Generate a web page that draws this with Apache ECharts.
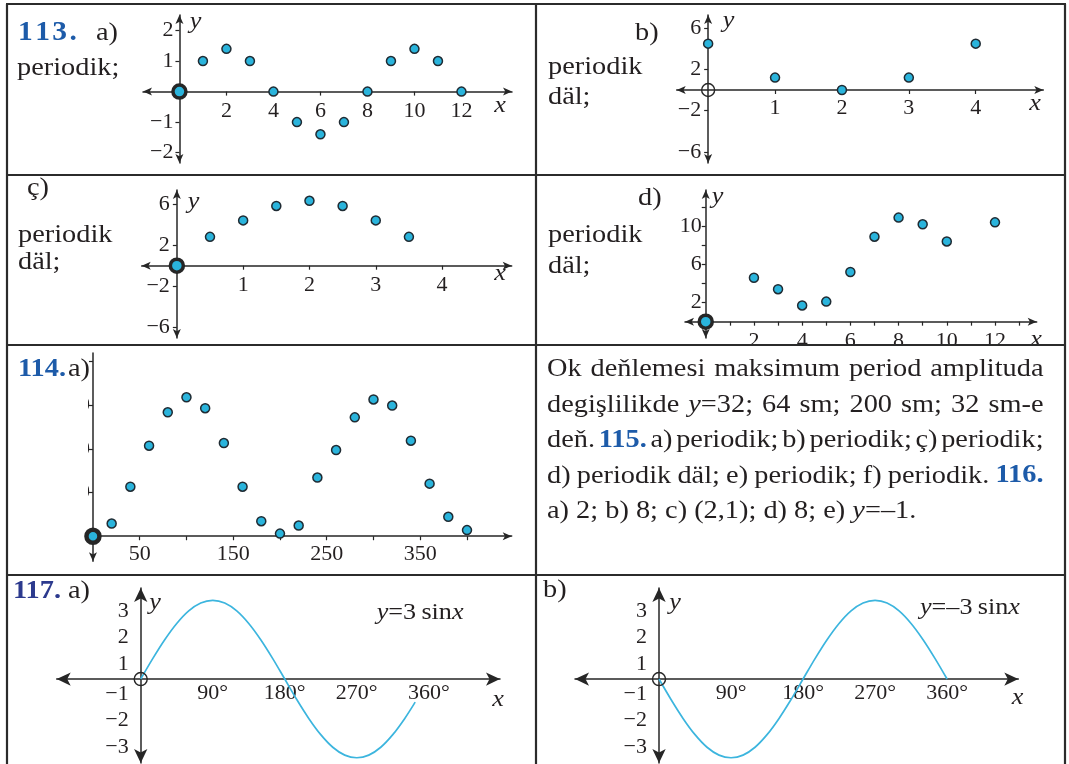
<!DOCTYPE html>
<html>
<head>
<meta charset="utf-8">
<script src="https://cdn.jsdelivr.net/npm/echarts@6/dist/echarts.min.js"></script>
<style>
  html, body { margin: 0; padding: 0; background: #fff; }
  #c { width: 1069px; height: 764px; }
</style>
</head>
<body>
<div id="c"></div>
<script>
// ---------- 113 a) ----------
const a113X = [0, 1, 2, 3, 4, 5, 6, 7, 8, 9, 10, 11, 12];
const a113Y = [0, 1, 1.4, 1, 0, -1, -1.4, -1, 0, 1, 1.4, 1, 0];
const a113XTicks = [2, 4, 6, 8, 10, 12];
const a113YTicks = [-2, -1, 1, 2];

// ---------- 113 b) ----------
const b113X = [0, 1, 2, 3, 4];
const b113Y = [4.5, 1.2, 0, 1.2, 4.5];
const b113XTicks = [1, 2, 3, 4];
const b113YTicks = [-6, -2, 2, 6];

// ---------- 113 ç) ----------
const c113X = [0, 0.5, 1, 1.5, 2, 2.5, 3, 3.5];
const c113Y = [0, 2.8, 4.4, 5.8, 6.3, 5.8, 4.4, 2.8];
const c113XTicks = [1, 2, 3, 4];
const c113YTicks = [-6, -2, 2, 6];

// ---------- 113 d) ----------
const d113X = [0, 2, 3, 4, 5, 6, 7, 8, 9, 10, 12];
const d113Y = [0, 4.6, 3.4, 1.7, 2.1, 5.2, 8.9, 10.9, 10.2, 8.4, 10.4];
const d113XTicks = [1, 2, 3, 4, 5, 6, 7, 8, 9, 10, 11, 12, 13];
const d113XLabels = [2, 4, 6, 8, 10, 12];
const d113YTicks = [2, 4, 6, 8, 10, 12];
const d113YLabels = [2, 6, 10];

// ---------- 114 a) ----------
const a114X = [0, 20, 40, 60, 80, 100, 120, 140, 160, 180, 200, 220, 240, 260, 280, 300, 320, 340, 360, 380, 400];
const a114Y = [0, 5.8, 22.7, 41.5, 56.8, 63.7, 58.7, 42.7, 22.7, 6.9, 1.2, 4.9, 26.9, 39.5, 54.5, 62.7, 59.9, 43.8, 24.1, 8.9, 2.8];
const a114XTicks = [50, 100, 150, 200, 250, 300, 350, 400];
const a114XLabels = [50, 150, 250, 350];
const a114YTicks = [20, 40, 60, 80];
const a114YLabels = [20, 40, 60];

// ---------- 117 a) y = 3 sin x ----------
const sinADeg = [0, 15, 30, 45, 60, 75, 90, 105, 120, 135, 150, 165, 180, 195, 210, 225, 240, 255, 270, 285, 300, 315, 330, 343];
const sinAVal = [0, 0.78, 1.5, 2.12, 2.6, 2.9, 3, 2.9, 2.6, 2.12, 1.5, 0.78, 0, -0.78, -1.5, -2.12, -2.6, -2.9, -3, -2.9, -2.6, -2.12, -1.5, -0.88];

// ---------- 117 b) y = -3 sin x ----------
const sinBDeg = [0, 15, 30, 45, 60, 75, 90, 105, 120, 135, 150, 165, 180, 195, 210, 225, 240, 255, 270, 285, 300, 315, 330, 345, 360];
const sinBVal = [0, -0.78, -1.5, -2.12, -2.6, -2.9, -3, -2.9, -2.6, -2.12, -1.5, -0.78, 0, 0.78, 1.5, 2.12, 2.6, 2.9, 3, 2.9, 2.6, 2.12, 1.5, 0.78, 0];

const degLabels = [90, 180, 270, 360];
const sinYLabels = [-3, -2, -1, 1, 2, 3];
const ORIGIN = [0, 0];

// ---------- styling ----------
const INK = '#262626';
const TEXT = '#231f20';
const DOT = '#2ab4dc';
const CURVE = '#3cb5de';
const BLUE = '#1d5ba9';
const BLUE2 = '#2c3a8e';
const SERIF = 'Liberation Serif';
const SX = 1.09;

const minus = v => (v < 0 ? '\u2212' + (-v) : String(v));
const degFmt = v => v + '°';
const sinNeg = sinYLabels.filter(v => v < 0);
const sinPos = sinYLabels.filter(v => v > 0);

// one entry per coordinate system: box in pixels, ranges, ticks and labels
const panels = [
  { box: { left: 143, top: 15, width: 369, height: 148 },
    x: { min: -1.55, max: 14.15, ticks: a113XTicks, labels: a113XTicks, margin: 9 },
    y: { min: -2.34, max: 2.51, ticks: a113YTicks, labels: a113YTicks, margin: 6 } },
  { box: { left: 676.7, top: 15, width: 366.6, height: 148 },
    x: { min: -0.47, max: 5.01, ticks: b113XTicks, labels: b113XTicks, margin: 7 },
    y: { min: -7.09, max: 7.28, ticks: b113YTicks, labels: b113YTicks, margin: 7 } },
  { box: { left: 141.7, top: 190, width: 370, height: 148 },
    x: { min: -0.53, max: 5.05, ticks: c113XTicks, labels: c113XTicks, margin: 9 },
    y: { min: -7.02, max: 7.35, ticks: c113YTicks, labels: c113YTicks, margin: 7 } },
  { box: { left: 685, top: 190, width: 351.7, height: 148 },
    x: { min: -0.86, max: 13.73, ticks: d113XTicks, labels: d113XLabels, margin: 9 },
    y: { min: -1.71, max: 13.79, ticks: d113YTicks, labels: d113YLabels, margin: 4 } },
  { box: { left: 88, top: 353, width: 423.7, height: 208.3 },
    x: { min: -5.3, max: 447.8, ticks: a114XTicks, labels: a114XLabels, margin: 7, arrows: ['none', 'arrow'] },
    y: { min: -11.5, max: 84, ticks: a114YTicks, labels: a114YLabels, margin: 3, arrows: ['arrow', 'none'] } },
  { box: { left: 56.7, top: 588, width: 443.3, height: 175 },
    x: { min: -105, max: 449, labels: degLabels, fmt: degFmt, margin: 3, arrowSize: [10, 14] },
    y: { min: -3.2, max: 3.47, labels: sinNeg, valign: 'bottom', margin: 12, arrowSize: [10, 14] },
    y2: { min: -3.2, max: 3.47, labels: sinPos, valign: 'top', margin: 12, noLine: true } },
  { box: { left: 575, top: 588, width: 443.3, height: 175 },
    x: { min: -105, max: 449, labels: degLabels, fmt: degFmt, margin: 3, arrowSize: [10, 14] },
    y: { min: -3.2, max: 3.47, labels: sinNeg, valign: 'bottom', margin: 12, arrowSize: [10, 14] },
    y2: { min: -3.2, max: 3.47, labels: sinPos, valign: 'top', margin: 12, noLine: true } }
];

// the axes cross at the origin: shift each axis from the box edge onto the zero line
function axis(grid, o, offset, position) {
  const label = o.labels
    ? { show: true, customValues: o.labels, formatter: o.fmt || minus, margin: o.margin, hideOverlap: false,
        fontFamily: SERIF, fontSize: 22, color: TEXT, lineHeight: 22 }
    : { show: false };
  if (o.valign) label.verticalAlign = o.valign;
  return {
    type: 'value', gridIndex: grid, min: o.min, max: o.max, position, offset,
    splitLine: { show: false },
    axisLine: {
      show: !o.noLine, onZero: false,
      symbol: o.arrows || ['arrow', 'arrow'],
      symbolSize: o.arrowSize || [6, 9],
      lineStyle: { color: INK, width: 1.5 }
    },
    axisTick: o.ticks
      ? { show: true, customValues: o.ticks, length: 4, lineStyle: { color: INK, width: 1.2 } }
      : { show: false },
    axisLabel: label
  };
}

const xOffset = p => -p.box.height * (0 - p.y.min) / (p.y.max - p.y.min);
const yOffset = p => -p.box.width * (0 - p.x.min) / (p.x.max - p.x.min);

const grids = panels.map(p => Object.assign({ containLabel: false, outerBoundsMode: 'none' }, p.box));
const xAxes = panels.map((p, i) => axis(i, p.x, xOffset(p), 'bottom'));
const yAxes = panels.map((p, i) => axis(i, p.y, yOffset(p), 'left'));
// label-only companion axes (positive labels of the sine panels)
panels.forEach((p, i) => { if (p.y2) yAxes.push(axis(i, p.y2, yOffset(p), 'left')); });

// scatter of points; the point at the origin gets the heavy dark ring
function dots(idx, xs, ys, heavyOrigin) {
  const data = xs.map((x, i) => {
    const item = { value: [x, ys[i]] };
    if (x === 0 && ys[i] === 0 && heavyOrigin) {
      item.symbolSize = 13;
      item.itemStyle = { borderColor: INK, borderWidth: heavyOrigin };
    }
    return item;
  });
  return {
    type: 'scatter', xAxisIndex: idx, yAxisIndex: idx, data, symbolSize: 9, silent: true, z: 3,
    itemStyle: { color: DOT, borderColor: '#1f2b33', borderWidth: 1.5, opacity: 1 }
  };
}

function ring(idx) {
  return {
    type: 'scatter', xAxisIndex: idx, yAxisIndex: idx, data: [ORIGIN], symbolSize: 13, silent: true, z: 3,
    itemStyle: { color: 'rgba(0,0,0,0)', borderColor: INK, borderWidth: 1.4, opacity: 1 }
  };
}

function curve(idx, xs, ys) {
  return {
    type: 'line', xAxisIndex: idx, yAxisIndex: idx, data: xs.map((x, i) => [x, ys[i]]),
    smooth: 0.35, showSymbol: false, silent: true, z: 2,
    lineStyle: { color: CURVE, width: 1.7 }
  };
}

const series = [
  dots(0, a113X, a113Y, 3.5),
  dots(1, b113X, b113Y, 0), ring(1),
  dots(2, c113X, c113Y, 3.5),
  dots(3, d113X, d113Y, 3.5),
  dots(4, a114X, a114Y, 4.5),
  curve(5, sinADeg, sinAVal), ring(5),
  curve(6, sinBDeg, sinBVal), ring(6)
];

// ---------- frame, headings, axis names and answer text ----------
const graphics = [];
const fontOf = (size, o = {}) => `${o.italic ? 'italic ' : ''}${o.bold ? 'bold ' : ''}${size}px "${SERIF}"`;

function addText(x, y, text, o = {}) {
  graphics.push({
    type: 'text', x, y, scaleX: SX, z: 60, silent: true,
    style: {
      text, font: fontOf(o.size || 26, o), fill: o.color || TEXT,
      align: o.align || 'left', verticalAlign: 'middle', rich: o.rich
    }
  });
}

function addLine(x1, y1, x2, y2) {
  graphics.push({ type: 'line', z: 100, silent: true, shape: { x1, y1, x2, y2 }, style: { stroke: '#2b2b2b', lineWidth: 2.2 } });
}

function addCover(x, y, w, h) {
  graphics.push({ type: 'rect', z: 90, silent: true, shape: { x, y, width: w, height: h }, style: { fill: '#ffffff' } });
}

// panel headings
addText(18, 33, '1\u200A1\u200A3\u200A.', { bold: true, color: BLUE, size: 27 });
addText(96, 33, 'a)');
addText(17, 68, 'periodik;');
addText(635, 33, 'b)');
addText(548, 67, 'periodik');
addText(548, 97, 'däl;');
addText(27, 188, 'ç)');
addText(18, 235, 'periodik');
addText(18, 262, 'däl;');
addText(638, 198, 'd)');
addText(548, 235, 'periodik');
addText(548, 266, 'däl;');
addText(18, 369, '114.', { bold: true, color: BLUE });
addText(68, 369, 'a)');
addText(13, 591, '117.', { bold: true, color: BLUE2 });
addText(68, 591, 'a)');
addText(543, 590, 'b)');

// axis names
const axisNames = [
  ['y', 195.5, 22], ['x', 500, 106],
  ['y', 728.5, 21], ['x', 1035, 104],
  ['y', 193.5, 202], ['x', 500, 273.5],
  ['y', 717.5, 197], ['x', 1036, 340],
  ['y', 155, 603], ['x', 498, 700],
  ['y', 675, 603], ['x', 1017.5, 698]
];
axisNames.forEach(([t, x, y]) => addText(x, y, t, { size: 24, italic: true, align: 'center' }));

// equations of the two sine curves
const eqRich = {
  i: { font: fontOf(24, { italic: true }), fill: TEXT },
  n: { font: fontOf(24), fill: TEXT }
};
addText(376.7, 613, '{i|y}{n|=3\u2009sin}{i|x}', { size: 24, rich: eqRich });
addText(920, 608, '{i|y}{n|=\u20133\u2009sin}{i|x}', { size: 24, rich: eqRich });

// answer paragraph, justified between the two margins
const measureCtx = document.createElement('canvas').getContext('2d');
const PAR_SIZE = 26;
const PAR_LEFT = 547, PAR_RIGHT = 1043.5;
const paragraph = [
  { s: 'Ok deňlemesi maksimum period amplituda', justify: true },
  { s: 'degişlilikde *y*=32; 64 sm; 200 sm; 32 sm-e', justify: true },
  { s: 'deň. #115.# a) periodik; b) periodik; ç) periodik;', justify: true },
  { s: 'd) periodik däl; e) periodik; f) periodik. #116.#', justify: true },
  { s: 'a) 2; b) 8; c) (2,1); d) 8; e) *y*=–1.', justify: false }
];

function parseWord(w) {
  return w.split(/(\*[^*]+\*|#[^#]+#)/).filter(Boolean).map(p => {
    if (p[0] === '*') return { t: p.slice(1, -1), italic: true };
    if (p[0] === '#') return { t: p.slice(1, -1), bold: true, color: BLUE };
    return { t: p };
  });
}
function runWidth(r) {
  measureCtx.font = fontOf(PAR_SIZE, r);
  return measureCtx.measureText(r.t).width * SX;
}

paragraph.forEach((line, li) => {
  const y = 369.5 + li * 35.4;
  const words = line.s.split(' ').map(parseWord);
  const widths = words.map(runs => runs.reduce((s, r) => s + runWidth(r), 0));
  const total = widths.reduce((a, b) => a + b, 0);
  measureCtx.font = fontOf(PAR_SIZE);
  const space = measureCtx.measureText(' ').width * SX;
  const gap = line.justify ? Math.max(2, (PAR_RIGHT - PAR_LEFT - total) / (words.length - 1)) : space;
  let x = PAR_LEFT;
  words.forEach(runs => {
    runs.forEach(r => {
      addText(x, y, r.t, { size: PAR_SIZE, italic: r.italic, bold: r.bold, color: r.color });
      x += runWidth(r);
    });
    x += gap;
  });
});

// hidden parts: bottom of the d) labels and the clipped 114 y labels
addCover(537, 346, 527, 10);
addCover(8.5, 388, 79.5, 135);

// table frame
addLine(6, 4, 1066, 4);
addLine(7, 4, 7, 764);
addLine(536, 4, 536, 764);
addLine(1065, 4, 1065, 764);
addLine(7, 175, 1065, 175);
addLine(7, 345, 1065, 345);
addLine(7, 575, 1065, 575);

const chart = echarts.init(document.getElementById('c'), null, { renderer: 'canvas' });
chart.setOption({
  animation: false,
  backgroundColor: '#ffffff',
  grid: grids,
  xAxis: xAxes,
  yAxis: yAxes,
  series,
  graphic: { elements: graphics }
});
</script>
</body>
</html>
